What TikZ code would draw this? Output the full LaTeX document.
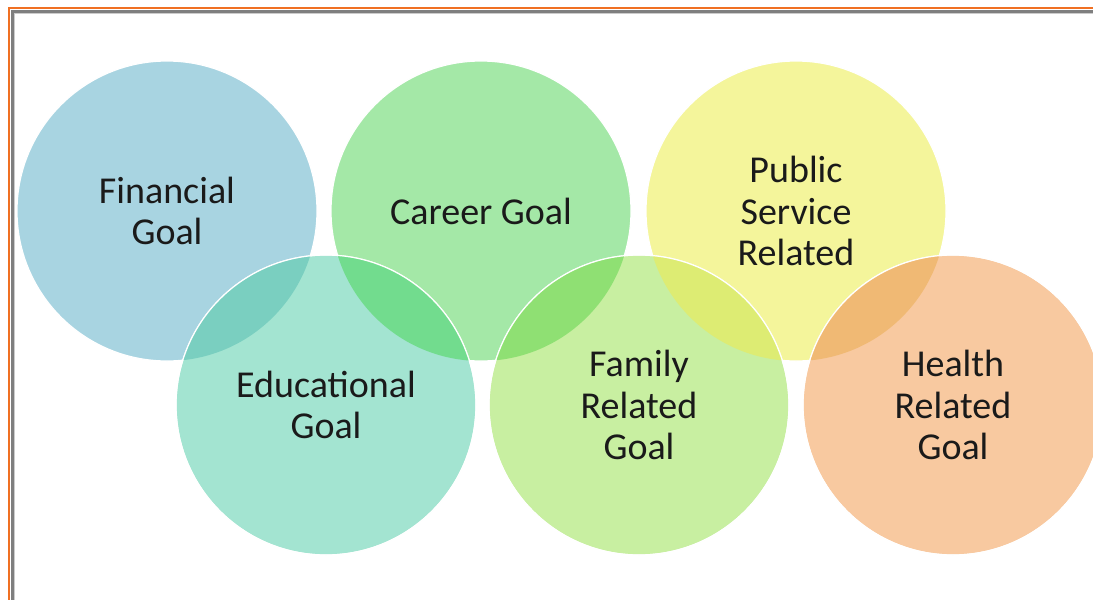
\documentclass[tikz,border=0pt]{standalone}
\usepackage{fontspec}
\setmainfont{Carlito}
\definecolor{cfin}{HTML}{A8D4E1}
\definecolor{cedu}{HTML}{A3E4D1}
\definecolor{cfinedu}{HTML}{7ACFC0}
\definecolor{ccar}{HTML}{A4E8A7}
\definecolor{ccaredu}{HTML}{72DC8E}
\definecolor{cfam}{HTML}{C8EFA1}
\definecolor{ccarfam}{HTML}{8FE073}
\definecolor{cpub}{HTML}{F4F59B}
\definecolor{cpubfam}{HTML}{DDEC73}
\definecolor{chea}{HTML}{F8C9A0}
\definecolor{cpubhea}{HTML}{F0B974}
\definecolor{ctext}{HTML}{1A1A1A}
\definecolor{corange}{HTML}{F07023}
\definecolor{cgray}{HTML}{7F7F7F}
\begin{document}
\begin{tikzpicture}[x=1pt,y=-1pt,
  goal/.style={circle, minimum size=300pt, inner sep=0pt, draw=white, line width=1.2pt,
    align=center, text=ctext, font=\fontsize{38}{41.5}\selectfont},
  rim/.style={draw=white, line width=1.2pt}]
\useasboundingbox (0,0) rectangle (1093,600);
\clip (0,0) rectangle (1093,600);
\fill[white] (0,0) rectangle (1093,600);
% top row
\node[goal, fill=cfin] (fin) at (167,211) {Financial\\Goal};
\node[goal, fill=ccar] (car) at (481,211) {Career Goal};
\node[goal, fill=cpub] (pub) at (796,211) {Public\\Service\\Related};
% bottom row
\node[goal, fill=cedu] (edu) at (326,405) {Educational\\Goal};
\node[goal, fill=cfam] (fam) at (639,405) {Family\\Related\\Goal};
\node[goal, fill=chea] (hea) at (953,405) {Health\\Related\\Goal};
% overlaps
\begin{scope}
  \clip (fin.center) circle (150);
  \fill[cfinedu] (edu.center) circle (150);
\end{scope}
\begin{scope}
  \clip (car.center) circle (150);
  \fill[ccaredu] (edu.center) circle (150);
  \fill[ccarfam] (fam.center) circle (150);
\end{scope}
\begin{scope}
  \clip (pub.center) circle (150);
  \fill[cpubfam] (fam.center) circle (150);
  \fill[cpubhea] (hea.center) circle (150);
\end{scope}
\draw[rim] (edu.center) circle (150);
\draw[rim] (fam.center) circle (150);
\draw[rim] (hea.center) circle (150);
% frame
\draw[corange, line width=2.4pt] (9,600) -- (9,8) -- (1093,8);
\draw[cgray, line width=3pt] (12,600) -- (12,11.5) -- (1093,11.5);
\draw[gray!40, line width=1pt] (14,600) -- (14,13.5) -- (1093,13.5);
\end{tikzpicture}
\end{document}
